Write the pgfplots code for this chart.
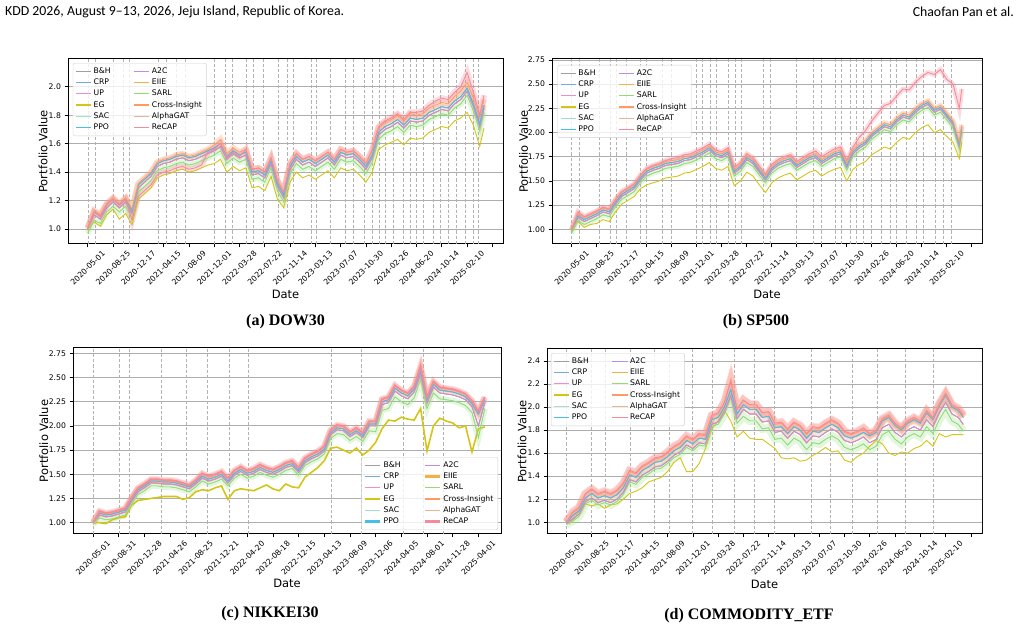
\documentclass[border=0pt]{standalone}
\usepackage{fontspec}
\usepackage{pgfplots}
\usepackage{pgfplotstable}
\pgfplotsset{compat=1.18}

\newfontfamily\dv{DejaVu Sans}
\newfontfamily\hdr{Carlito}
\newfontfamily\capfont{Liberation Serif}

\definecolor{cBH}{HTML}{A0A0A0}
\definecolor{cCRP}{HTML}{74A9E6}
\definecolor{cUP}{HTML}{F08CD0}
\definecolor{cEG}{HTML}{D4C416}
\definecolor{cSAC}{HTML}{9FE2C8}
\definecolor{cPPO}{HTML}{45BFE6}
\definecolor{cA2C}{HTML}{BE8CF0}
\definecolor{cEIIE}{HTML}{F2B140}
\definecolor{cSARL}{HTML}{92DC72}
\definecolor{cCI}{HTML}{FF9966}
\definecolor{cGAT}{HTML}{E6B595}
\definecolor{cRC}{HTML}{F58A9A}

% ---------------- DOW30 ----------------
\pgfplotstableread{
x M A C R S E
0 1.00 1.01 1.01 1.00 0.97 0.99
0.25 1.10 1.12 1.13 1.12 1.06 1.05
0.5 1.07 1.09 1.10 1.09 1.04 1.02
0.75 1.15 1.17 1.18 1.17 1.12 1.10
1.0 1.19 1.21 1.22 1.21 1.16 1.14
1.25 1.15 1.17 1.18 1.17 1.12 1.07
1.5 1.19 1.21 1.22 1.21 1.16 1.11
1.75 1.11 1.13 1.14 1.06 1.08 1.03
2.0 1.29 1.31 1.32 1.23 1.26 1.21
2.25 1.33 1.35 1.36 1.27 1.30 1.25
2.5 1.37 1.39 1.40 1.31 1.34 1.29
2.75 1.44 1.46 1.47 1.38 1.41 1.36
3.0 1.46 1.48 1.49 1.40 1.43 1.38
3.25 1.47 1.49 1.50 1.41 1.44 1.39
3.5 1.49 1.51 1.52 1.43 1.46 1.41
3.75 1.50 1.52 1.53 1.44 1.47 1.42
4.0 1.48 1.50 1.51 1.42 1.45 1.40
4.25 1.49 1.51 1.52 1.43 1.46 1.41
4.5 1.51 1.53 1.54 1.45 1.48 1.43
4.75 1.53 1.55 1.56 1.54 1.50 1.45
5.0 1.55 1.57 1.59 1.56 1.52 1.46
5.25 1.58 1.60 1.63 1.60 1.55 1.49
5.5 1.49 1.51 1.53 1.50 1.46 1.40
5.75 1.53 1.55 1.57 1.54 1.50 1.44
6.0 1.50 1.52 1.54 1.51 1.47 1.41
6.25 1.52 1.54 1.56 1.56 1.49 1.43
6.5 1.38 1.40 1.42 1.42 1.35 1.29
6.75 1.39 1.41 1.43 1.43 1.36 1.30
7.0 1.36 1.38 1.40 1.40 1.33 1.27
7.25 1.46 1.48 1.50 1.50 1.43 1.37
7.5 1.30 1.32 1.34 1.34 1.27 1.21
7.75 1.22 1.24 1.26 1.26 1.19 1.15
8.0 1.42 1.44 1.46 1.46 1.39 1.33
8.25 1.49 1.51 1.53 1.53 1.46 1.40
8.5 1.45 1.47 1.49 1.49 1.42 1.36
8.75 1.47 1.49 1.51 1.51 1.44 1.38
9.0 1.44 1.46 1.48 1.48 1.41 1.35
9.25 1.47 1.49 1.51 1.51 1.44 1.38
9.5 1.50 1.52 1.54 1.54 1.47 1.41
9.75 1.45 1.47 1.49 1.49 1.42 1.36
10.0 1.52 1.54 1.56 1.56 1.49 1.43
10.25 1.50 1.52 1.54 1.54 1.47 1.41
10.5 1.51 1.53 1.55 1.55 1.48 1.42
10.75 1.47 1.49 1.51 1.51 1.44 1.38
11.0 1.42 1.44 1.46 1.46 1.39 1.33
11.25 1.50 1.52 1.55 1.56 1.47 1.40
11.5 1.66 1.68 1.71 1.72 1.63 1.56
11.75 1.70 1.72 1.75 1.76 1.67 1.59
12.0 1.72 1.74 1.77 1.78 1.69 1.61
12.25 1.75 1.77 1.80 1.81 1.72 1.63
12.5 1.71 1.73 1.76 1.77 1.68 1.59
12.75 1.76 1.78 1.81 1.82 1.73 1.64
13.0 1.75 1.77 1.80 1.82 1.72 1.63
13.25 1.76 1.78 1.81 1.83 1.73 1.64
13.5 1.80 1.82 1.85 1.87 1.77 1.68
13.75 1.82 1.84 1.87 1.90 1.79 1.70
14.0 1.84 1.86 1.89 1.92 1.81 1.72
14.25 1.83 1.85 1.88 1.91 1.80 1.71
14.5 1.88 1.90 1.93 1.96 1.85 1.76
14.75 1.91 1.93 1.97 2.00 1.88 1.78
15.0 1.97 1.99 2.03 2.10 1.94 1.82
15.25 1.86 1.88 1.92 1.96 1.83 1.73
15.5 1.72 1.74 1.78 1.80 1.69 1.58
15.67 1.85 1.87 1.91 1.94 1.82 1.71
}\tabA

% ---------------- SP500 ----------------
\pgfplotstableread{
x M A C R S E
0 1.00 1.00 1.00 1.00 0.96 0.98
0.25 1.12 1.14 1.16 1.18 1.09 1.08
0.5 1.08 1.10 1.12 1.13 1.05 1.02
0.75 1.11 1.13 1.15 1.16 1.08 1.05
1.0 1.14 1.16 1.18 1.19 1.11 1.06
1.25 1.18 1.20 1.22 1.23 1.15 1.10
1.5 1.16 1.18 1.20 1.21 1.13 1.08
1.75 1.26 1.28 1.30 1.31 1.23 1.18
2.0 1.34 1.36 1.38 1.39 1.31 1.26
2.25 1.38 1.40 1.42 1.43 1.35 1.30
2.5 1.42 1.44 1.46 1.47 1.39 1.34
2.75 1.51 1.53 1.55 1.56 1.48 1.42
3.0 1.58 1.60 1.62 1.63 1.55 1.46
3.25 1.61 1.63 1.65 1.66 1.58 1.48
3.5 1.63 1.65 1.67 1.68 1.60 1.50
3.75 1.66 1.68 1.70 1.71 1.63 1.53
4.0 1.67 1.69 1.71 1.73 1.64 1.54
4.25 1.68 1.70 1.72 1.74 1.65 1.55
4.5 1.71 1.73 1.75 1.77 1.68 1.58
4.75 1.72 1.74 1.76 1.78 1.69 1.59
5.0 1.75 1.77 1.79 1.81 1.72 1.62
5.25 1.78 1.80 1.82 1.84 1.75 1.65
5.5 1.82 1.84 1.86 1.88 1.79 1.69
5.75 1.76 1.78 1.80 1.82 1.73 1.63
6.0 1.74 1.76 1.78 1.80 1.71 1.61
6.25 1.78 1.80 1.82 1.84 1.75 1.65
6.5 1.58 1.60 1.62 1.64 1.55 1.45
6.75 1.63 1.65 1.67 1.69 1.60 1.50
7.0 1.72 1.74 1.76 1.78 1.69 1.59
7.25 1.68 1.70 1.72 1.74 1.65 1.55
7.5 1.59 1.61 1.63 1.65 1.56 1.46
7.75 1.51 1.53 1.55 1.57 1.48 1.38
8.0 1.61 1.63 1.65 1.67 1.58 1.48
8.25 1.66 1.68 1.70 1.72 1.63 1.53
8.5 1.69 1.71 1.73 1.75 1.66 1.56
8.75 1.71 1.73 1.75 1.77 1.68 1.58
9.0 1.64 1.66 1.68 1.70 1.61 1.51
9.25 1.68 1.70 1.72 1.74 1.65 1.55
9.5 1.72 1.74 1.76 1.78 1.69 1.59
9.75 1.74 1.76 1.78 1.81 1.71 1.61
10.0 1.68 1.70 1.72 1.75 1.65 1.55
10.25 1.72 1.74 1.76 1.79 1.69 1.59
10.5 1.76 1.78 1.80 1.83 1.73 1.62
10.75 1.78 1.80 1.82 1.85 1.75 1.64
11.0 1.64 1.66 1.68 1.71 1.61 1.50
11.25 1.78 1.80 1.82 1.85 1.75 1.62
11.5 1.84 1.86 1.88 1.95 1.81 1.67
11.75 1.88 1.90 1.92 2.02 1.85 1.70
12.0 1.96 1.98 2.00 2.12 1.93 1.77
12.25 2.01 2.03 2.05 2.20 1.98 1.81
12.5 2.06 2.08 2.10 2.28 2.03 1.85
12.75 2.04 2.06 2.08 2.30 2.01 1.83
13.0 2.11 2.13 2.15 2.38 2.08 1.90
13.25 2.16 2.18 2.20 2.45 2.13 1.95
13.5 2.14 2.16 2.18 2.44 2.11 1.93
13.75 2.21 2.23 2.25 2.52 2.18 2.00
14.0 2.26 2.28 2.30 2.58 2.23 2.05
14.25 2.29 2.31 2.33 2.62 2.26 2.08
14.5 2.21 2.23 2.25 2.60 2.18 2.00
14.75 2.24 2.26 2.28 2.65 2.21 2.03
15.0 2.16 2.18 2.20 2.55 2.13 1.96
15.25 2.08 2.10 2.12 2.50 2.05 1.90
15.5 1.86 1.88 1.90 2.25 1.83 1.73
15.6 2.04 2.06 2.08 2.45 2.01 1.90
}\tabB

% ---------------- NIKKEI30 ----------------
\pgfplotstableread{
x M A C R S E
0 1.00 1.00 1.00 1.00 0.98 1.00
0.25 1.08 1.10 1.11 1.12 1.05 1.00
0.5 1.06 1.08 1.09 1.10 1.03 0.99
0.75 1.07 1.09 1.10 1.11 1.04 1.03
1.0 1.09 1.11 1.12 1.13 1.06 1.05
1.25 1.11 1.13 1.14 1.15 1.08 1.06
1.5 1.22 1.24 1.25 1.26 1.19 1.18
1.75 1.32 1.34 1.35 1.36 1.29 1.23
2.0 1.36 1.38 1.39 1.40 1.33 1.24
2.25 1.41 1.43 1.44 1.45 1.38 1.25
2.5 1.41 1.43 1.44 1.45 1.38 1.26
2.75 1.40 1.42 1.43 1.44 1.37 1.27
3.0 1.40 1.42 1.43 1.44 1.37 1.27
3.25 1.39 1.41 1.42 1.43 1.36 1.27
3.5 1.37 1.39 1.40 1.41 1.34 1.24
3.75 1.35 1.37 1.38 1.39 1.32 1.26
4.0 1.40 1.42 1.43 1.44 1.37 1.32
4.25 1.46 1.48 1.50 1.51 1.43 1.34
4.5 1.43 1.45 1.47 1.48 1.40 1.33
4.75 1.45 1.47 1.49 1.50 1.42 1.36
5.0 1.48 1.50 1.52 1.53 1.45 1.38
5.25 1.41 1.43 1.45 1.46 1.38 1.24
5.5 1.49 1.51 1.53 1.54 1.46 1.33
5.75 1.53 1.55 1.57 1.58 1.50 1.35
6.0 1.49 1.51 1.53 1.54 1.46 1.34
6.25 1.51 1.53 1.55 1.56 1.48 1.33
6.5 1.55 1.57 1.59 1.60 1.52 1.36
6.75 1.52 1.54 1.56 1.57 1.49 1.39
7.0 1.50 1.52 1.54 1.55 1.47 1.35
7.25 1.53 1.55 1.57 1.58 1.50 1.33
7.5 1.57 1.59 1.61 1.62 1.54 1.40
7.75 1.59 1.61 1.63 1.64 1.56 1.37
8.0 1.52 1.54 1.56 1.57 1.49 1.36
8.25 1.62 1.64 1.66 1.67 1.59 1.47
8.5 1.66 1.68 1.70 1.71 1.63 1.52
8.75 1.69 1.71 1.73 1.74 1.66 1.57
9.0 1.74 1.76 1.78 1.79 1.71 1.64
9.25 1.91 1.93 1.95 1.96 1.87 1.77
9.5 1.96 1.98 2.00 2.01 1.92 1.78
9.75 1.95 1.97 1.99 2.00 1.91 1.75
10.0 1.89 1.91 1.93 1.94 1.85 1.72
10.25 1.93 1.95 1.97 1.98 1.89 1.77
10.5 1.88 1.90 1.92 1.93 1.84 1.70
10.75 2.00 2.02 2.04 2.05 1.95 1.75
11.0 2.00 2.02 2.04 2.05 1.94 1.83
11.25 2.22 2.25 2.27 2.28 2.16 1.97
11.5 2.24 2.27 2.29 2.30 2.18 2.06
11.75 2.36 2.39 2.41 2.42 2.30 2.05
12.0 2.31 2.34 2.36 2.37 2.25 2.09
12.25 2.28 2.31 2.33 2.34 2.22 2.07
12.5 2.35 2.38 2.40 2.41 2.29 2.06
12.75 2.54 2.58 2.60 2.62 2.48 2.18
13.0 2.24 2.27 2.29 2.30 2.18 1.74
13.25 2.40 2.43 2.45 2.46 2.34 2.00
13.5 2.34 2.37 2.39 2.40 2.28 2.08
13.75 2.33 2.36 2.38 2.39 2.27 2.05
14.0 2.32 2.35 2.37 2.38 2.26 2.03
14.25 2.30 2.33 2.35 2.36 2.24 1.98
14.5 2.27 2.30 2.32 2.33 2.21 2.00
14.75 2.20 2.23 2.25 2.26 2.14 1.73
15.0 2.00 2.12 2.14 2.15 1.88 1.97
15.25 2.24 2.27 2.29 2.30 2.18 1.99
}\tabC

% ---------------- COMMODITY_ETF ----------------
\pgfplotstableread{
x M A C R S E
0 0.99 1.00 1.00 1.00 0.98 1.00
0.25 1.03 1.06 1.08 1.09 1.01 1.01
0.5 1.07 1.10 1.12 1.13 1.05 1.10
0.75 1.18 1.21 1.24 1.25 1.16 1.16
1.0 1.21 1.25 1.28 1.29 1.19 1.14
1.25 1.17 1.21 1.24 1.25 1.15 1.16
1.5 1.19 1.23 1.26 1.27 1.17 1.12
1.75 1.17 1.21 1.24 1.25 1.15 1.15
2.0 1.20 1.24 1.27 1.28 1.18 1.16
2.25 1.26 1.30 1.33 1.34 1.24 1.20
2.5 1.37 1.41 1.44 1.45 1.35 1.25
2.75 1.35 1.39 1.42 1.43 1.33 1.27
3.0 1.41 1.45 1.48 1.49 1.39 1.30
3.25 1.44 1.48 1.51 1.52 1.42 1.35
3.5 1.48 1.52 1.55 1.56 1.46 1.37
3.75 1.49 1.53 1.56 1.57 1.47 1.39
4.0 1.53 1.57 1.60 1.61 1.51 1.44
4.25 1.58 1.62 1.65 1.66 1.56 1.52
4.5 1.61 1.65 1.68 1.69 1.59 1.56
4.75 1.67 1.71 1.74 1.75 1.65 1.44
5.0 1.64 1.68 1.71 1.72 1.62 1.44
5.25 1.69 1.73 1.76 1.77 1.67 1.51
5.5 1.68 1.72 1.75 1.76 1.66 1.64
5.75 1.85 1.89 1.92 1.93 1.83 1.81
6.0 1.87 1.91 1.94 1.95 1.85 1.88
6.25 1.96 2.00 2.04 2.04 1.94 1.97
6.5 2.10 2.15 2.24 2.22 2.08 1.88
6.75 1.90 1.94 1.98 1.98 1.86 1.74
7.0 1.98 2.02 2.06 2.06 1.92 1.79
7.25 1.94 1.98 2.02 2.02 1.88 1.73
7.5 1.94 1.98 2.02 2.02 1.88 1.72
7.75 1.87 1.91 1.95 1.95 1.81 1.72
8.0 1.88 1.92 1.96 1.96 1.82 1.68
8.25 1.78 1.82 1.85 1.86 1.72 1.64
8.5 1.79 1.83 1.86 1.87 1.73 1.56
8.75 1.73 1.77 1.80 1.81 1.67 1.55
9.0 1.79 1.83 1.86 1.87 1.73 1.56
9.25 1.76 1.80 1.83 1.84 1.70 1.53
9.5 1.69 1.73 1.76 1.77 1.63 1.54
9.75 1.75 1.79 1.82 1.83 1.69 1.58
10.0 1.74 1.78 1.81 1.82 1.68 1.61
10.25 1.78 1.82 1.85 1.86 1.72 1.65
10.5 1.81 1.85 1.88 1.89 1.75 1.61
10.75 1.78 1.82 1.85 1.86 1.72 1.62
11.0 1.71 1.75 1.78 1.79 1.65 1.54
11.25 1.69 1.73 1.76 1.77 1.63 1.52
11.5 1.71 1.75 1.78 1.79 1.65 1.57
11.75 1.74 1.78 1.81 1.82 1.68 1.60
12.0 1.69 1.75 1.76 1.77 1.63 1.66
12.25 1.72 1.78 1.79 1.80 1.66 1.71
12.5 1.82 1.88 1.89 1.90 1.76 1.68
12.75 1.85 1.91 1.92 1.93 1.79 1.60
13.0 1.78 1.84 1.85 1.86 1.72 1.58
13.25 1.74 1.80 1.81 1.82 1.68 1.61
13.5 1.80 1.86 1.87 1.88 1.74 1.60
13.75 1.83 1.89 1.90 1.91 1.77 1.64
14.0 1.80 1.86 1.87 1.88 1.74 1.66
14.25 1.89 1.95 1.96 1.97 1.83 1.71
14.5 1.83 1.89 1.90 1.91 1.77 1.66
14.75 1.95 2.01 2.02 2.03 1.89 1.77
15.0 2.04 2.10 2.11 2.12 1.98 1.74
15.25 1.94 2.00 2.01 2.02 1.88 1.76
15.5 1.91 1.97 1.98 1.99 1.85 1.76
15.7 1.85 1.91 1.92 1.93 1.79 1.76
}\tabD

\pgfplotsset{
  panel/.style={
    scale only axis,
    axis line style={line width=1pt, black},
    tick align=outside, xtick pos=left, ytick pos=left,
    major tick length=3.5pt, tick style={black, line width=0.7pt},
    ymajorgrids=true,
    y grid style={black!32, line width=0.9pt},
    xtick={0,...,16},
    xticklabel style={yshift=-20.5pt, rotate=45, anchor=center, font=\dv\fontsize{7.7}{8}\selectfont},
    yticklabel style={font=\dv\fontsize{7.7}{8}\selectfont},
    xlabel={Date}, ylabel={Portfolio Value},
    label style={font=\dv\fontsize{11.5}{13}\selectfont},
    xlabel style={at={(axis description cs:0.5,-0.27)}, anchor=center},
    legend columns=2,
    legend image code/.code={\draw[##1] (0pt,0pt) -- (15pt,0pt);},
    legend style={font=\dv\fontsize{7.7}{8}\selectfont, draw=black!18, rounded corners=2pt,
      fill=white, fill opacity=0.8, text opacity=1, inner sep=2.5pt,
      row sep=0pt, cells={anchor=west},
      /tikz/every even column/.append style={column sep=21pt}},
    clip=true,
  },
}

% vertical dashed marker lines: #1 positions, #2 ymin, #3 ymax
\newcommand{\vlines}[3]{%
  \pgfplotsinvokeforeach{#1}{\draw[black!30, dash pattern=on 3.2pt off 2pt, line width=0.65pt] (axis cs:##1,#2) -- (axis cs:##1,#3);}%
}

% #1 line width of the wide legend samples
\newcommand{\legendset}[1]{%
  \addlegendimage{cBH, line width=1.2pt}\addlegendentry{B\&H}
  \addlegendimage{cA2C, line width=1.2pt}\addlegendentry{A2C}
  \addlegendimage{cCRP, line width=1.2pt}\addlegendentry{CRP}
  \addlegendimage{cEIIE, line width=#1}\addlegendentry{EIIE}
  \addlegendimage{cUP, line width=1.2pt}\addlegendentry{UP}
  \addlegendimage{cSARL, line width=1.2pt}\addlegendentry{SARL}
  \addlegendimage{cEG, line width=#1}\addlegendentry{EG}
  \addlegendimage{cCI, line width=#1}\addlegendentry{Cross-Insight}
  \addlegendimage{cSAC, line width=1.2pt}\addlegendentry{SAC}
  \addlegendimage{cGAT, line width=1.2pt}\addlegendentry{AlphaGAT}
  \addlegendimage{cPPO, line width=#1}\addlegendentry{PPO}
  \addlegendimage{cRC, line width=#1}\addlegendentry{ReCAP}
}

% #1 table, #2 width of the shaded spread, #3 width of EG and ReCAP lines
\newcommand{\drawpanel}[3]{%
  \addplot[forget plot, cSARL, opacity=0.25, line width=#2] table[x=x,y=S]{#1};
  \addplot[forget plot, cGAT, opacity=0.35, line width=#2] table[x=x,y=A]{#1};
  \addplot[forget plot, cCI, opacity=0.30, line width=#2] table[x=x,y=C]{#1};
  \addplot[forget plot, cRC, opacity=0.30, line width=#2] table[x=x,y=R]{#1};
  \addplot[forget plot, cEG, line width=#3] table[x=x,y=E]{#1};
  \addplot[forget plot, cSAC, line width=0.7pt] table[x=x,y=S]{#1};
  \addplot[forget plot, cSARL, line width=0.7pt] table[x=x,y=S]{#1};
  \addplot[forget plot, cBH, line width=0.7pt] table[x=x,y=M]{#1};
  \addplot[forget plot, cUP, line width=0.7pt] table[x=x,y=M]{#1};
  \addplot[forget plot, cEIIE, line width=0.7pt] table[x=x,y=M]{#1};
  \addplot[forget plot, cA2C, line width=0.7pt] table[x=x,y=M]{#1};
  \addplot[forget plot, cGAT, line width=0.7pt] table[x=x,y=A]{#1};
  \addplot[forget plot, cCRP, line width=0.7pt] table[x=x,y=A]{#1};
  \addplot[forget plot, cPPO, line width=0.7pt] table[x=x,y=A]{#1};
  \addplot[forget plot, cCI, line width=0.7pt] table[x=x,y=C]{#1};
  \addplot[forget plot, cRC, line width=#3] table[x=x,y=R]{#1};
}

\newcommand{\oneesix}{\node[anchor=south west, inner sep=0pt, yshift=1.5pt, font=\dv\fontsize{5.5}{6}\selectfont] at (rel axis cs:0,1) {1e6};}
\newcommand{\rightedge}{\draw[black!55, line width=2pt] ([xshift=1pt]rel axis cs:1,0) -- ([xshift=1pt]rel axis cs:1,1);}

\begin{document}
\begin{tikzpicture}
\useasboundingbox (0pt,0pt) rectangle (1020pt,631pt);

\node[anchor=west, inner sep=0pt, font=\hdr\fontsize{13.8}{15}\selectfont] at (5pt,619pt)
  {KDD 2026, August 9–13, 2026, Jeju Island, Republic of Korea.};
\node[anchor=east, inner sep=0pt, font=\hdr\fontsize{13.8}{15}\selectfont] at (1014pt,619pt)
  {Chaofan Pan et al.};

% (a) DOW30
\begin{axis}[panel, at={(68pt,387pt)}, anchor=south west, width=435pt, height=185pt,
  xmin=-0.78, xmax=16.42, ymin=0.895, ymax=2.195,
  ytick={1.0,1.2,1.4,1.6,1.8,2.0}, yticklabels={1.0,1.2,1.4,1.6,1.8,2.0},
  xticklabels={2020-05-01,2020-08-25,2020-12-17,2021-04-15,2021-08-09,2021-12-01,2022-03-28,2022-07-22,2022-11-14,2023-03-13,2023-07-07,2023-10-30,2024-02-26,2024-06-20,2024-10-14,2025-02-10},
  ylabel style={at={(axis description cs:-0.0575,0.5)}, anchor=center},
  legend style={at={(0.011,0.978)}, anchor=north west}]
  \legendset{1.2pt}
  \vlines{0.01,0.32,1.03,1.42,1.66,2.81,3.09,3.51,3.84,4.99,5.45,5.70,6.29,6.53,6.96,7.52,7.90,8.11,8.85,9.05,9.58,10.17,10.49,10.92,11.24,11.52,11.75,12.07,12.47,12.74,13.01,13.26,13.65,13.93,14.25,14.59,14.92,15.24,15.43}{0.895}{2.195}
  \drawpanel{\tabA}{6pt}{0.9pt}
  \oneesix
\end{axis}

% (b) SP500
\begin{axis}[panel, at={(552pt,387pt)}, anchor=south west, width=430pt, height=185pt,
  xmin=-0.79, xmax=16.41, ymin=0.848, ymax=2.76,
  ytick={1.00,1.25,1.50,1.75,2.00,2.25,2.50,2.75}, yticklabels={1.00,1.25,1.50,1.75,2.00,2.25,2.50,2.75},
  xticklabels={2020-05-01,2020-08-25,2020-12-17,2021-04-15,2021-08-09,2021-12-01,2022-03-28,2022-07-22,2022-11-14,2023-03-13,2023-07-07,2023-10-30,2024-02-26,2024-06-20,2024-10-14,2025-02-10},
  ylabel style={at={(axis description cs:-0.066,0.5)}, anchor=center},
  legend style={at={(0.013,0.968)}, anchor=north west}]
  \legendset{1.2pt}
  \vlines{0.0,0.31,1.09,1.53,1.8,2.2,2.73,3.0,3.63,4.0,5.0,5.24,5.53,5.8,6.27,6.53,6.8,7.67,7.93,8.97,9.67,10.0,10.53,10.8,11.13,11.4,11.67,12.0,12.4,12.73,13.0,13.4,13.8,14.07,14.53,14.87,15.2}{0.848}{2.76}
  \drawpanel{\tabB}{5pt}{0.9pt}
  \oneesix
  \rightedge
\end{axis}

% (c) NIKKEI30
\begin{axis}[panel, at={(73pt,97pt)}, anchor=south west, width=428pt, height=186pt,
  xmin=-0.78, xmax=15.88, ymin=0.883, ymax=2.805,
  ytick={1.00,1.25,1.50,1.75,2.00,2.25,2.50,2.75}, yticklabels={1.00,1.25,1.50,1.75,2.00,2.25,2.50,2.75},
  xticklabels={2020-05-01,2020-08-31,2020-12-28,2021-04-26,2021-08-25,2021-12-21,2022-04-20,2022-08-18,2022-12-15,2023-04-13,2023-08-09,2023-12-06,2024-04-05,2024-08-01,2024-11-28,2025-04-01},
  ylabel style={at={(axis description cs:-0.068,0.5)}, anchor=center},
  xlabel style={at={(axis description cs:0.5,-0.263)}},
  legend style={at={(0.993,0.0215)}, anchor=south east}]
  \legendset{2.6pt}
  \vlines{0.0,1.01,1.43,2.64,3.64,4.44,5.29,6.04,9.26,10.46,12.08,12.86,13.64}{0.883}{2.805}
  \drawpanel{\tabC}{6pt}{1.6pt}
  \oneesix
\end{axis}

% (d) COMMODITY_ETF
\begin{axis}[panel, at={(547pt,97pt)}, anchor=south west, width=435pt, height=185pt,
  xmin=-0.77, xmax=16.44, ymin=0.898, ymax=2.504,
  ytick={1.0,1.2,1.4,1.6,1.8,2.0,2.2,2.4}, yticklabels={1.0,1.2,1.4,1.6,1.8,2.0,2.2,2.4},
  xticklabels={2020-05-01,2020-08-25,2020-12-17,2021-04-15,2021-08-09,2021-12-01,2022-03-28,2022-07-22,2022-11-14,2023-03-13,2023-07-07,2023-10-30,2024-02-26,2024-06-20,2024-10-14,2025-02-10},
  ylabel style={at={(axis description cs:-0.0575,0.5)}, anchor=center},
  legend style={at={(0.009,0.978)}, anchor=north west}]
  \legendset{1.2pt}
  \vlines{0.0,0.99,1.55,2.51,3.49,4.05,4.98,5.76,6.66,7.45,8.21,9.69,10.45,11.3,12.3,13.41,14.51}{0.898}{2.504}
  \drawpanel{\tabD}{8pt}{0.9pt}
  \oneesix
  \rightedge
\end{axis}

\node[font=\capfont\bfseries\fontsize{16}{18}\selectfont] at (285.5pt,309pt) {(a) DOW30};
\node[font=\capfont\bfseries\fontsize{16}{18}\selectfont] at (756pt,309pt) {(b) SP500};
\node[font=\capfont\bfseries\fontsize{16}{18}\selectfont] at (270pt,17pt) {(c) NIKKEI30};
\node[font=\capfont\bfseries\fontsize{16}{18}\selectfont] at (749pt,15pt) {(d) COMMODITY\_ETF};
\end{tikzpicture}
\end{document}
